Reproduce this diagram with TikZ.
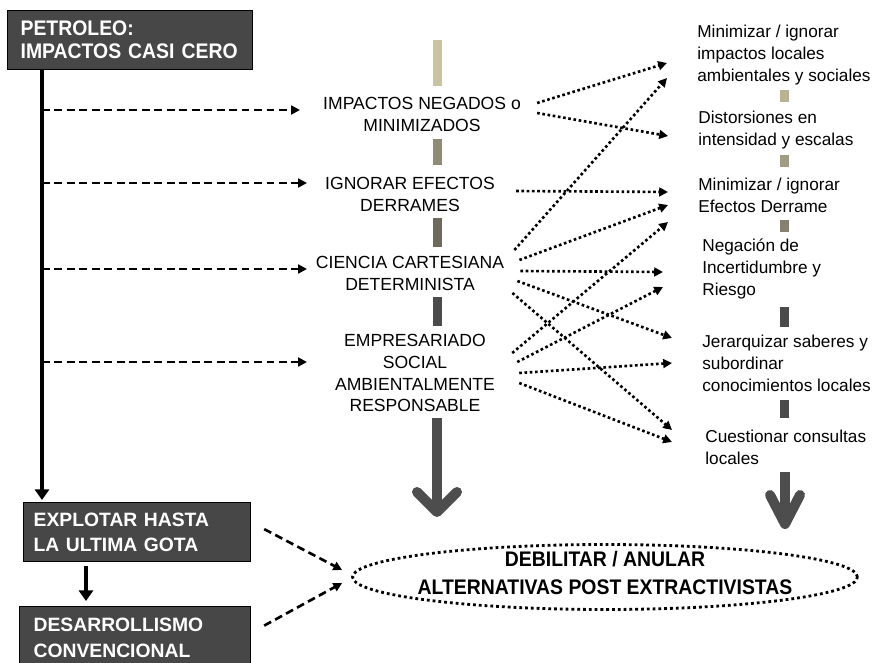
\documentclass[tikz,border=0pt]{standalone}
\usepackage{fontspec}
\setmainfont{Liberation Sans}
\newfontfamily\narrowbold[FakeStretch=0.92]{Liberation Sans}
\usepackage{tikz}
\usetikzlibrary{arrows.meta,calc,shapes.geometric}

\definecolor{boxgray}{HTML}{474747}
\definecolor{arrowgray}{HTML}{4D4D4D}
\definecolor{barA}{HTML}{C9C3A1}
\definecolor{barB}{HTML}{908B73}
\definecolor{barC}{HTML}{6D695C}
\definecolor{barD}{HTML}{4B4B4B}
\definecolor{barE}{HTML}{B9B394}
\definecolor{barF}{HTML}{A19C85}
\definecolor{barG}{HTML}{858070}

\begin{document}
\begin{tikzpicture}[x=0.02cm,y=-0.02cm,
	darkbox/.style={shape=rectangle,draw=black,line width=0.7pt,fill=boxgray,text=white,anchor=north west,align=left},
	midtext/.style={align=center,font=\fontsize{10}{12.5}\selectfont,inner xsep=0.36cm,inner ysep=0pt},
	sidetext/.style={anchor=west,align=left,font=\fontsize{9.8}{12.5}\selectfont,inner xsep=0.6cm,inner ysep=0pt},
	trunkline/.style={line width=2.8pt,-{Triangle[length=6pt,width=8pt]}},
	branch/.style={line width=1.5pt,dash pattern=on 4.5pt off 2.6pt,-{Triangle[length=5pt,width=5pt]}},
	dotarrow/.style={line width=1.5pt,dash pattern=on 1.5pt off 1.5pt,-{Triangle[length=5pt,width=5pt]}},
	bigarrow/.style={draw=arrowgray,line width=0.2cm,line join=round},
	goalshape/.style={shape=ellipse,draw=black,line width=1.6pt,dash pattern=on 1.6pt off 1.7pt,minimum width=10.1cm,minimum height=1.3cm,inner sep=0pt}]
	
	\useasboundingbox (0,0) rectangle (874,662);
	
	\node[darkbox,minimum width=4.9cm,minimum height=1.18cm,inner xsep=0.26cm,text width=4.38cm,font=\narrowbold\bfseries\fontsize{12}{13}\selectfont] (petro) at (7,10) {PETROLEO:\\IMPACTOS CASI CERO};
	\node[darkbox,minimum width=4.54cm,minimum height=1.18cm,inner xsep=0.2cm,text width=4.14cm,font=\bfseries\fontsize{11}{14.5}\selectfont] (explotar) at (23,502) {EXPLOTAR HASTA\\LA ULTIMA GOTA};
	\node[darkbox,minimum width=4.62cm,minimum height=1.24cm,inner xsep=0.28cm,text width=4.06cm,font=\bfseries\fontsize{11}{14.5}\selectfont] (desarr) at (19,606) {DESARROLLISMO\\CONVENCIONAL};
	
	\node[midtext] (neg) at (422,114) {IMPACTOS NEGADOS o\\MINIMIZADOS};
	\node[midtext] (ign) at (410,194) {IGNORAR EFECTOS\\DERRAMES};
	\node[midtext] (cie) at (410,273) {CIENCIA CARTESIANA\\DETERMINISTA};
	\node[midtext] (emp) at (415,373) {EMPRESARIADO\\SOCIAL\\AMBIENTALMENTE\\RESPONSABLE};
	
	\node[sidetext] (r1) at (667,55)  {Minimizar / ignorar\\impactos locales\\ambientales y sociales};
	\node[sidetext] (r2) at (668,130) {Distorsiones en\\intensidad y escalas};
	\node[sidetext] (r3) at (668,195) {Minimizar / ignorar\\Efectos Derrame};
	\node[sidetext] (r4) at (672,269) {Negación de\\Incertidumbre y\\Riesgo};
	\node[sidetext] (r5) at (672,363) {Jerarquizar saberes y\\subordinar\\conocimientos locales};
	\node[sidetext] (r6) at (675,447) {Cuestionar consultas\\locales};
	
	\node[goalshape] (goal) at (605,577) {\smash{\makebox[0pt]{\raisebox{-0.07cm}{\narrowbold\bfseries\fontsize{12}{15.8}\selectfont\begin{tabular}{@{}c@{}}DEBILITAR / ANULAR\\ALTERNATIVAS POST EXTRACTIVISTAS\end{tabular}}}}};
	
	\fill[barA] (433,40) rectangle (442,86);
	\fill[barB] (433,139) rectangle (442,165);
	\fill[barC] (433,218) rectangle (442,247);
	\fill[barD] (433,297) rectangle (442,326);
	\fill[barE] (780,90) rectangle (789,102);
	\fill[barF] (780,155) rectangle (789,167);
	\fill[barG] (780,220) rectangle (789,232);
	\fill[barD] (780,307) rectangle (789,327);
	\fill[barD] (780,400) rectangle (789,418);
	
	\draw[bigarrow] (437,418) -- (437,508);
	\draw[bigarrow,line cap=round] (417,492) -- (437,512) -- (457,492);
	\draw[bigarrow] (785,472) -- (785,520);
	\draw[bigarrow,line cap=round] (770,495) -- (785,524) -- (800,495);
	
	\coordinate (e1) at (300,110);
	\coordinate (e2) at (307,183);
	\coordinate (e3) at (307,269);
	\coordinate (e4) at (307,362);
	
	\draw[trunkline,shorten >=0.04cm] ([xshift=0.7cm]petro.south west) coordinate (trunk) -- (trunk |- explotar.north);
	\draw[trunkline,shorten <=0.08cm,shorten >=0.1cm] ([xshift=1.26cm]explotar.south west) coordinate (drop) -- (drop |- desarr.north);
	\path[branch] (trunk |- e1) edge (e1);
	\path[branch] (trunk |- e2) edge (e2);
	\path[branch] (trunk |- e3) edge (e3);
	\path[branch] (trunk |- e4) edge (e4);
	
	\path[dotarrow] ($(neg.east)+(-2,-11)$) edge ($(r1.west)+(0,8)$);
	\path[dotarrow] ($(neg.east)+(-2,-1)$)  edge ($(r2.west)+(0,6)$);
	\path[dotarrow] ($(ign.east)+(3,-3)$)   edge ($(r3.west)+(0,-3)$);
	\path[dotarrow] ($(cie.east)+(-8,-23)$) edge ($(r1.west)+(0,23)$);
	\path[dotarrow] ($(cie.east)+(-3,-13)$) edge ($(r3.west)+(0,10)$);
	\path[dotarrow] ($(cie.east)+(-2,-2)$)  edge ($(r4.west)+(-9,3)$);
	\path[dotarrow] ($(cie.east)+(-5,8)$)   edge ($(r5.west)+(0,-25)$);
	\path[dotarrow] ($(cie.east)+(-10,20)$) edge ($(r6.west)+(-3,-17)$);
	\path[dotarrow] ($(emp.east)+(-1,-20)$) edge ($(r3.west)+(0,27)$);
	\path[dotarrow] ($(emp.east)+(4,-11)$)  edge ($(r4.west)+(-9,18)$);
	\path[dotarrow] ($(emp.east)+(6,0)$)    edge ($(r5.west)+(0,0)$);
	\path[dotarrow] ($(emp.east)+(6,10)$)   edge ($(r6.west)+(-3,-5)$);
	
	\path[branch] ($(explotar.east)+(13,-3)$) edge ($(goal.west)+(-9,-7)$);
	\path[branch] ($(desarr.east)+(13,-12)$) edge ($(goal.west)+(-9,6)$);
	
\end{tikzpicture}
\end{document}
